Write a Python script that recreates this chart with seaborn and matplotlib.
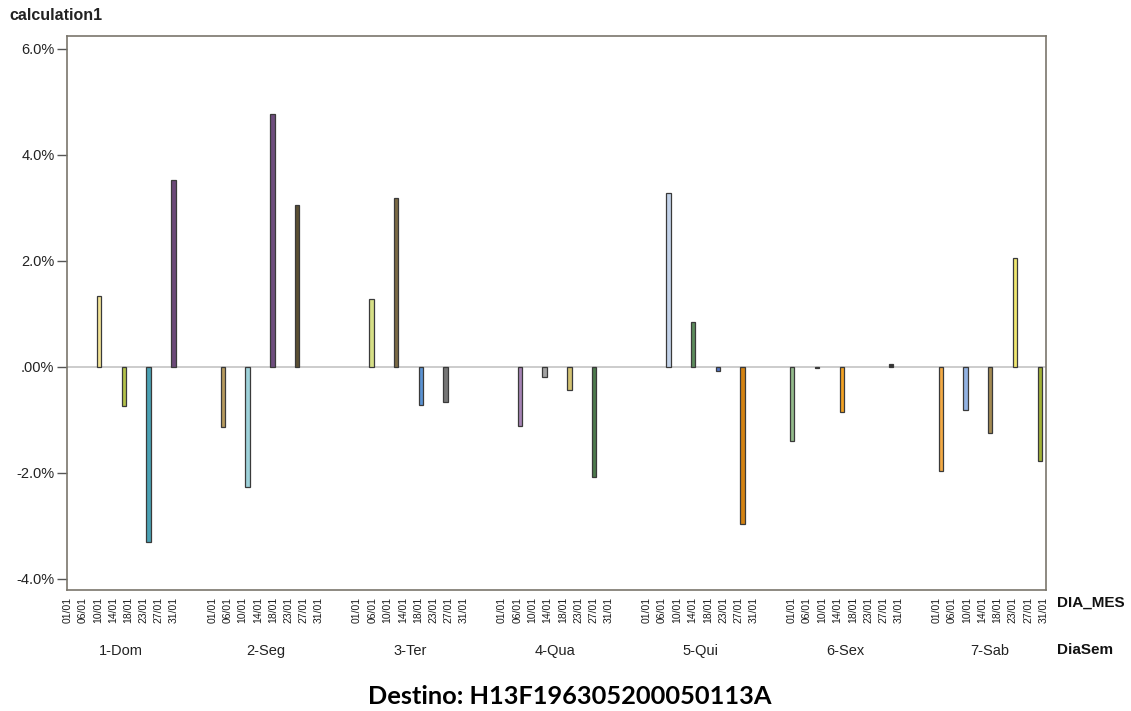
import numpy as np
import pandas as pd
import matplotlib
matplotlib.use("Agg")
import matplotlib.pyplot as plt
import seaborn as sns

# -----------------------------------------------------------------------------
# Data
# -----------------------------------------------------------------------------
dias_semana = ['1-Dom', '2-Seg', '3-Ter', '4-Qua', '5-Qui', '6-Sex', '7-Sab']
dias_mes = ['01/01', '06/01', '10/01', '14/01', '18/01', '23/01', '27/01', '31/01']

# bar slots along the axis (empty slots have no bar)
n_slots = 40
bar_slot = [1, 2, 3, 4, 6, 7, 8, 9, 12, 13, 14, 15, 18, 19, 20, 21,
            24, 25, 26, 27, 29, 30, 31, 33, 35, 36, 37, 38, 39]
bar_value = [1.34, -0.73, -3.31, 3.52, -1.13, -2.26, 4.77, 3.06,
             1.29, 3.19, -0.72, -0.67, -1.11, -0.19, -0.44, -2.07,
             3.29, 0.85, -0.08, -2.96, -1.39, -0.03, -0.86, 0.05,
             -1.96, -0.81, -1.24, 2.06, -1.77]
bar_color = ['#f3e496', '#b3c24a', '#4aa1b4', '#6b4878', '#b79b5e', '#9ed2da',
             '#6e4d7e', '#5b4f33', '#d6df86', '#7b6a44', '#5b93d3', '#767676',
             '#a583b4', '#a3a3a3', '#d3c272', '#4c7a4c', '#c3d3ea', '#5c8c5c',
             '#5475c4', '#d38212', '#93bb8b', '#222222', '#f2a224', '#333333',
             '#f3aa44', '#93b3e3', '#a38a52', '#f0e870', '#a2b236']

y_ticks = [-4, -2, 0, 2, 4, 6]
y_tick_labels = ['-4.0%', '-2.0%', '.00%', '2.0%', '4.0%', '6.0%']

df = pd.DataFrame({'slot': [str(s) for s in bar_slot], 'value': bar_value})
slot_order = [str(s) for s in range(n_slots)]
palette = dict(zip(df['slot'], bar_color))

# -----------------------------------------------------------------------------
# Figure
# -----------------------------------------------------------------------------
sns.set_theme(style='white')
plt.rcParams['font.family'] = ['Liberation Sans', 'DejaVu Sans']

fig = plt.figure(figsize=(11.31, 7.11), dpi=100)
ax = fig.add_axes([0.0592, 0.1702, 0.8656, 0.7792])

ax.axhline(0, color='#c4c4c4', linewidth=1.2, zorder=0)
sns.barplot(data=df, x='slot', y='value', hue='slot', order=slot_order,
            palette=palette, saturation=1, legend=False, width=0.18,
            edgecolor='#3a3a3a', linewidth=0.9, errorbar=None, ax=ax, zorder=2)

ax.set_xlim(-0.30, 39.25)
ax.set_ylim(-4.21, 6.245)
ax.set_xticks([])
ax.set_xlabel('')
ax.set_ylabel('')
ax.set_yticks(y_ticks)
ax.set_yticklabels(y_tick_labels, fontsize=10.5, color='#222222')
ax.tick_params(axis='y', direction='out', length=7, width=1, color='#555555',
               pad=2, left=True)
for sp in ax.spines.values():
    sp.set_color('#7a766c')
    sp.set_linewidth(1.2)

# nested category labels (DIA_MES inside DiaSem) on a second x axis
ax2 = ax.twiny()
ax2.set_xlim(-0.02, 64.17)
gap = 9.5
date_pos = [g * gap + i for g in range(len(dias_semana)) for i in range(len(dias_mes))]
date_lab = dias_mes * len(dias_semana)
ax2.xaxis.set_ticks_position('bottom')
ax2.xaxis.set_label_position('bottom')
ax2.set_xticks(date_pos)
ax2.set_xticklabels(date_lab, rotation=90, fontsize=7.5, color='#1a1a1a')
group_pos = [g * gap + (len(dias_mes) - 1) / 2 for g in range(len(dias_semana))]
ax2.set_xticks(group_pos, minor=True)
ax2.set_xticklabels(dias_semana, minor=True, fontsize=10.5, color='#222222')
ax2.tick_params(axis='x', which='major', length=0, pad=5)
ax2.tick_params(axis='x', which='minor', length=0, pad=39)
for sp in ax2.spines.values():
    sp.set_visible(False)

fig.text(0.0085, 0.978, 'calculation1', fontsize=11.5, fontweight='bold',
         color='#222222', ha='left', va='center')
fig.text(0.935, 1 - 603 / 711, 'DIA_MES', fontsize=11, fontweight='bold',
         color='#111111', ha='left', va='center')
fig.text(0.935, 1 - 650 / 711, 'DiaSem', fontsize=11, fontweight='bold',
         color='#111111', ha='left', va='center')
fig.text(570 / 1131, 1 - 697 / 711, 'Destino: H13F196305200050113A',
         fontsize=18.3, fontweight='bold', family=['Lato', 'DejaVu Sans'],
         color='#000000', ha='center', va='center')

fig.savefig('out.png', dpi=100, facecolor='white')
